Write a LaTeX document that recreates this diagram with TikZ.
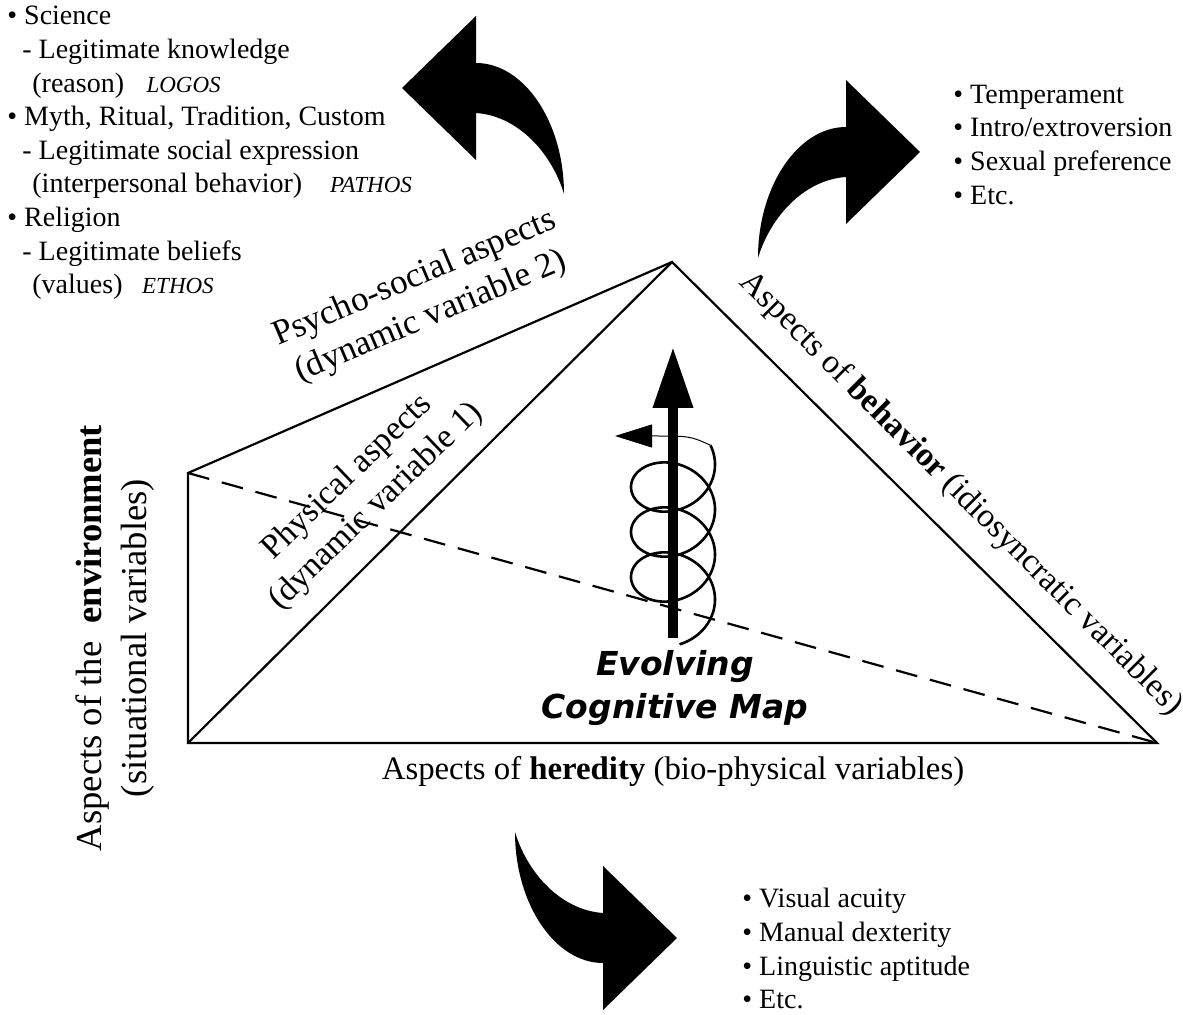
\documentclass[tikz,border=0pt]{standalone}
\usepackage{fontspec}
\setmainfont{Liberation Serif}
\newfontfamily\mapfont{DejaVu Sans}
\usetikzlibrary{arrows.meta}
\newcommand\appeal[1]{{\fontsize{11.5}{14}\selectfont\itshape #1}}
\tikzset{
  side/.style={line width=1.1pt},
  hidden/.style={line width=1.1pt, dash pattern=on 11pt off 6.5pt},
  coil/.style={line width=1.3pt},
  sidetext/.style={inner sep=0pt, align=center},
  bullets/.style={inner sep=0pt, align=left, anchor=north west, font=\fontsize{14}{16.8}\selectfont},
  bentarrow/.pic={
    \fill (0,0) .. controls (0,-72) and (40,-131) .. (88,-131) -- (88,-178)
      -- (162,-106) -- (88,-34) -- (88,-81) .. controls (45,-78) and (12,-40) .. (0,0) -- cycle;
  }
}
\begin{document}
\begin{tikzpicture}[x=0.5pt,y=-0.5pt]
  \useasboundingbox (0,0) rectangle (1183,1015);
  \coordinate (apex) at (672,262);
  \coordinate (topleft) at (188,473);
  \coordinate (botleft) at (188,743);
  \coordinate (botright) at (1157,743);
  \draw[side] (topleft) -- (apex) -- (botright) -- (botleft) -- cycle;
  \draw[side] (apex) -- (botleft);
  \draw[hidden] (topleft) -- (botright);

  \draw[coil] plot[domain=-4.555:16.179, samples=300, variable=\t]
    ({673-42*cos(\t r)}, {577-7.16*(\t-sin(\t r))+28*sin(\t r)});
  \coordinate (coilend) at (710.4,445.2);
  \coordinate (flagbase) at (652,436);
  \coordinate (flagtip) at (615,436);
  \draw[line width=0.5pt, -{Triangle[length=18.5pt,width=11.5pt]}]
    (coilend) .. controls (690,436) .. (flagbase) -- (flagtip);
  \coordinate (stem) at (673,638);
  \coordinate (rise) at (673,347);
  \draw[line width=5pt, -{Triangle[length=30.5pt,width=19pt]}] (stem) -- (rise);

  \pic[xscale=-1] at (564,194) {bentarrow};
  \pic at (758,258) {bentarrow};
  \pic[yscale=-1] at (515,832) {bentarrow};

  \node[sidetext, font=\fontsize{16.4}{19.7}\selectfont] (heredity) at (673,771)
    {Aspects of \textbf{heredity} (bio-physical variables)};
  \node[sidetext, rotate=90, font=\fontsize{18.3}{22.5}\selectfont] (environment) at (115,638)
    {Aspects of the~ \textbf{environment}\\(situational variables)};
  \node[sidetext, rotate=23, font=\fontsize{17.5}{20.8}\selectfont] (psycho) at (423,298)
    {Psycho-social aspects\\(dynamic variable 2)};
  \node[sidetext, rotate=44, font=\fontsize{17}{20.5}\selectfont] (physical) at (362,492)
    {Physical aspects\\(dynamic variable 1)};
  \node[sidetext, rotate=-45, font=\fontsize{16.8}{20}\selectfont] (behavior) at (961,494)
    {Aspects of \textbf{behavior} (idiosyncratic variables)};
  \node[sidetext, font=\mapfont\bfseries\itshape\fontsize{16.5}{21.5}\selectfont] (mapname) at (675,688)
    {Evolving\\Cognitive Map};

  \node[bullets] (reasons) at (7,6)
    {• Science\\
     \hspace*{7.5pt}- Legitimate knowledge\\
     \hspace*{12.5pt}(reason)\hspace{0.8em}\appeal{LOGOS}\\
     • Myth, Ritual, Tradition, Custom\\
     \hspace*{7.5pt}- Legitimate social expression\\
     \hspace*{12.5pt}(interpersonal behavior)\hspace{1em}\appeal{PATHOS}\\
     • Religion\\
     \hspace*{7.5pt}- Legitimate beliefs\\
     \hspace*{12.5pt}(values)\hspace{0.7em}\appeal{ETHOS}};
  \node[bullets] (traits) at (953,84.5)
    {• Temperament\\• Intro/extroversion\\• Sexual preference\\• Etc.};
  \node[bullets] (abilities) at (742,888)
    {• Visual acuity\\• Manual dexterity\\• Linguistic aptitude\\• Etc.};
\end{tikzpicture}
\end{document}
